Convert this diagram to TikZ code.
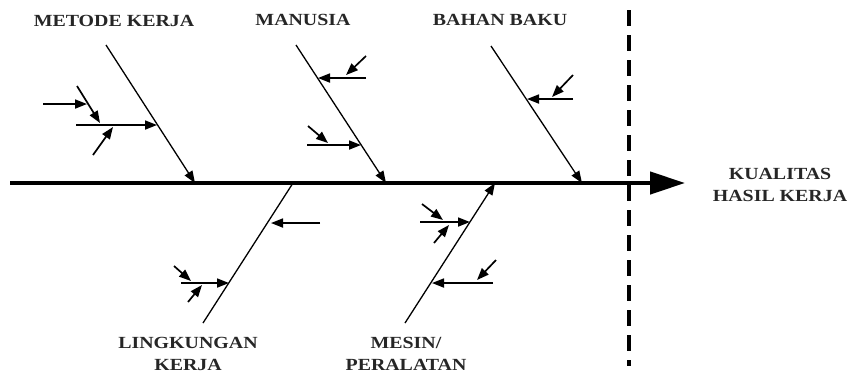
\documentclass[tikz,border=0pt]{standalone}
\usepackage{fontspec}
\setmainfont{Liberation Serif}
\usetikzlibrary{arrows.meta}
\definecolor{labelgray}{HTML}{262626}
\begin{document}
\begin{tikzpicture}[x=1pt,y=-1pt,
  spine/.style={line width=4.5pt,-{Triangle[length=35pt,width=22pt]}},
  bone/.style={line width=1.3pt},
  bonearrow/.style={bone,-{Triangle[length=12pt,width=9pt]}},
  twig/.style={line width=1.7pt,-{Triangle[length=12pt,width=9pt]}},
  limit/.style={line width=3.5pt,dash pattern=on 16pt off 9pt},
  lbl/.style={font=\fontsize{17}{22}\selectfont\bfseries,text=labelgray,
    align=center,inner sep=0pt,xscale=1.17}
]
\useasboundingbox (0,0) rectangle (850,376);

% main spine and the boundary line
\coordinate (spL) at (10,183);
\coordinate (spR) at (685,183);
\coordinate (dashT) at (629,10);
\coordinate (dashB) at (629,366);
\draw[limit] (dashT) -- (dashB);
\draw[spine] (spL) -- (spR);

% category labels
\node[lbl] (metode) at (114,21) {METODE KERJA};
\node[lbl] (manusia) at (303,20) {MANUSIA};
\node[lbl] (bahan) at (500,20) {BAHAN BAKU};
\node[lbl] (effect) at (780,185) {KUALITAS\\HASIL KERJA};
\node[lbl] (lingk) at (188,354) {LINGKUNGAN\\KERJA};
\node[lbl] (mesin) at (406,354) {MESIN/\\PERALATAN};

% main bones
\coordinate (mkT) at (106,45);  \coordinate (mkB) at (195,183);
\coordinate (mnT) at (296,45);  \coordinate (mnB) at (386,183);
\coordinate (bbT) at (491,46);  \coordinate (bbB) at (582,183);
\coordinate (lkB) at (203,323); \coordinate (lkT) at (293,183);
\coordinate (msB) at (405,323); \coordinate (msT) at (495,183);
\draw[bonearrow] (mkT) -- (mkB);
\draw[bonearrow] (mnT) -- (mnB);
\draw[bonearrow] (bbT) -- (bbB);
\draw[bone] (lkB) -- (lkT);
\draw[bonearrow] (msB) -- (msT);

% METODE KERJA causes
\coordinate (mk1a) at (76,125);  \coordinate (mk1b) at (157,125);
\coordinate (mk2a) at (77,86);   \coordinate (mk2b) at (100,123);
\coordinate (mk3a) at (43,104);  \coordinate (mk3b) at (87,104);
\coordinate (mk4a) at (93,155);  \coordinate (mk4b) at (113,127);
\draw[twig] (mk1a) -- (mk1b);
\draw[twig] (mk2a) -- (mk2b);
\draw[twig] (mk3a) -- (mk3b);
\draw[twig] (mk4a) -- (mk4b);

% MANUSIA causes
\coordinate (mn1a) at (366,78);  \coordinate (mn1b) at (318,78);
\coordinate (mn2a) at (366,56);  \coordinate (mn2b) at (346,75);
\coordinate (mn3a) at (307,145); \coordinate (mn3b) at (361,145);
\coordinate (mn4a) at (308,126); \coordinate (mn4b) at (328,143);
\draw[twig] (mn1a) -- (mn1b);
\draw[twig] (mn2a) -- (mn2b);
\draw[twig] (mn3a) -- (mn3b);
\draw[twig] (mn4a) -- (mn4b);

% BAHAN BAKU causes
\coordinate (bb1a) at (573,99);  \coordinate (bb1b) at (527,99);
\coordinate (bb2a) at (573,75);  \coordinate (bb2b) at (552,97);
\draw[twig] (bb1a) -- (bb1b);
\draw[twig] (bb2a) -- (bb2b);

% LINGKUNGAN KERJA causes
\coordinate (lk1a) at (320,223); \coordinate (lk1b) at (271,223);
\coordinate (lk2a) at (181,283); \coordinate (lk2b) at (229,283);
\coordinate (lk3a) at (174,266); \coordinate (lk3b) at (191,281);
\coordinate (lk4a) at (188,302); \coordinate (lk4b) at (202,285);
\draw[twig] (lk1a) -- (lk1b);
\draw[twig] (lk2a) -- (lk2b);
\draw[twig] (lk3a) -- (lk3b);
\draw[twig] (lk4a) -- (lk4b);

% MESIN/PERALATAN causes
\coordinate (ms1a) at (420,222); \coordinate (ms1b) at (470,222);
\coordinate (ms2a) at (422,204); \coordinate (ms2b) at (443,220);
\coordinate (ms3a) at (434,243); \coordinate (ms3b) at (449,225);
\coordinate (ms4a) at (493,283); \coordinate (ms4b) at (432,283);
\coordinate (ms5a) at (496,260); \coordinate (ms5b) at (477,280);
\draw[twig] (ms1a) -- (ms1b);
\draw[twig] (ms2a) -- (ms2b);
\draw[twig] (ms3a) -- (ms3b);
\draw[twig] (ms4a) -- (ms4b);
\draw[twig] (ms5a) -- (ms5b);
\end{tikzpicture}
\end{document}
